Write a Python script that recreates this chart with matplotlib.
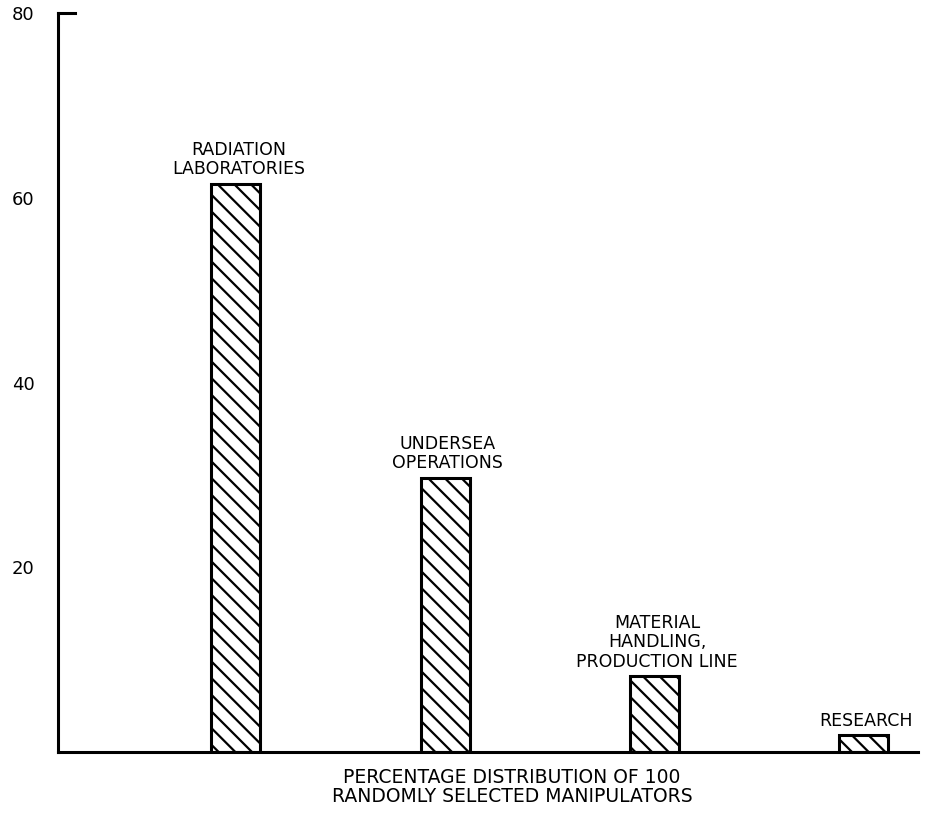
import numpy as np
import matplotlib
matplotlib.use('Agg')
import matplotlib.pyplot as plt

# data
categories = ['RADIATION\nLABORATORIES', 'UNDERSEA\nOPERATIONS',
              'MATERIAL\nHANDLING,\nPRODUCTION LINE', 'RESEARCH']
values = [61.5, 29.7, 8.2, 1.8]
ytick_vals = [20, 40, 60, 80]
ytick_labels = ['20', '40', '60', '80']

plt.rcParams['font.family'] = ['DejaVu Sans']
plt.rcParams['hatch.linewidth'] = 1.6
plt.rcParams['hatch.color'] = 'black'

fig = plt.figure(figsize=(9.47, 8.13), dpi=100)
ax = fig.add_axes([58/947, 1-752/813, (918-58)/947, (752-13)/813])

x = np.arange(len(values))
bars = ax.bar(x, values, width=0.235, facecolor='white', edgecolor='black',
              linewidth=2.2, hatch='\\\\')

#标签
for xi, v, lab in zip(x, values, categories):
    ax.annotate(lab, (xi, v), xytext=(2, 4), textcoords='offset points',
                ha='center', va='bottom', fontsize=12.5, linespacing=1.1)

ax.set_xlim(-0.85, 3.26)
ax.set_ylim(0, 80)
ax.set_xticks([])
ax.set_yticks(ytick_vals)
ax.set_yticklabels(ytick_labels, fontsize=13)
ax.tick_params(axis='y', length=0, pad=17)

for s in ['top', 'right']:
    ax.spines[s].set_visible(False)
for s in ['left', 'bottom']:
    ax.spines[s].set_linewidth(2.2)
ax.axhline(80, xmin=0, xmax=0.02, color='black', linewidth=2.2, clip_on=False)

fig.text(512/947, 1-768/813, 'PERCENTAGE DISTRIBUTION OF 100\nRANDOMLY SELECTED MANIPULATORS',
         ha='center', va='top', fontsize=13.5, linespacing=1.0)

fig.savefig('out.png', dpi=100)
